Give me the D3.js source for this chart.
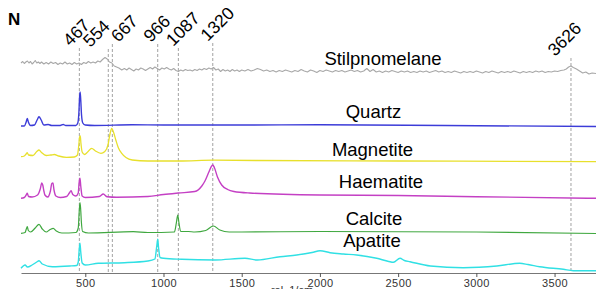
<!DOCTYPE html>
<html>
<head>
<meta charset="utf-8">
<script src="https://cdn.jsdelivr.net/npm/d3@7"></script>
<style>
  html, body { margin: 0; padding: 0; background: #fff; }
  svg { display: block; font-family: "Liberation Sans", Arial, sans-serif; }
</style>
</head>
<body>
<div id="chart"></div>
<script>
// Raman shift range shown (rel. 1/cm)
const shiftRange = [89, 3765];
const tickValues = [500, 1000, 1500, 2000, 2500, 3000, 3500];

// Marked peaks: printed label and where the dashed line sits in the picture
const peakLabels = ['467', '554', '667', '966', '1087', '1320', '3626'];
const peakLines = [462, 647, 673, 963, 1095, 1315, 3605];

// Spectra, top to bottom
const mineralNames = ['Stilpnomelane', 'Quartz', 'Magnetite', 'Haematite', 'Calcite', 'Apatite'];
const stackOffsets = [203, 147, 112, 75, 40, 5];

const stilpnomelane = [
  [89, 7], [100, 8.5], [110, 6.5], [120, 8], [130, 9], [140, 7], [150, 8.5], [160, 6], [170, 7.5], [180, 9.5],
  [190, 7], [200, 8], [210, 6.5], [220, 8], [235, 6], [250, 7.5], [265, 6], [280, 8], [295, 6.5], [310, 7.5],
  [325, 5.5], [340, 7], [355, 6], [370, 8], [385, 6], [400, 7], [415, 5.5], [430, 7.5], [445, 6], [460, 7],
  [475, 5.5], [490, 7.5], [505, 6.5], [520, 8.5], [535, 7], [550, 8], [565, 7], [580, 9], [595, 8], [610, 10.5],
  [626, 12.5], [640, 11], [655, 8], [670, 7], [685, 4], [700, 3], [715, 2], [733, 0], [750, 1.5], [765, 0],
  [780, 2], [795, 0.5], [810, -1], [825, 1], [840, 0], [855, 2], [870, 1], [885, -0.5], [900, 1], [915, 2.5],
  [930, 1], [945, 3], [960, 1.5], [975, 0], [990, 2], [1005, 1], [1020, 2.5], [1035, 1], [1050, 0], [1065, 1.5],
  [1080, -0.5], [1095, -1.5], [1110, 0], [1125, -1], [1140, 0.5], [1155, -0.5], [1170, 0], [1185, -1], [1200, 0.5],
  [1215, -0.5], [1230, 1], [1245, 0], [1260, 1.5], [1275, 0.5], [1290, 2], [1305, 1], [1320, 2.5], [1335, 0],
  [1350, 1], [1365, -1.5], [1380, 0.5], [1395, -1], [1410, 0], [1425, -1.5], [1440, 0.5], [1455, -1], [1470, 0],
  [1485, -1.5], [1500, 0], [1520, -1], [1540, 0.5], [1560, -1], [1580, 0], [1600, 1.5], [1620, 0.5], [1640, -1],
  [1660, 0], [1680, -1.5], [1700, -0.5], [1720, -2], [1740, -0.5], [1760, -1.5], [1780, 0], [1800, -1], [1820, -2],
  [1840, -0.5], [1860, -1.5], [1880, 0.5], [1900, -1], [1920, -2], [1940, 0], [1960, -1], [1980, -2.5], [2000, -0.5],
  [2020, -1.5], [2040, 0], [2060, -1], [2080, -2], [2100, -0.5], [2120, -1.5], [2140, -0.5], [2160, -2], [2180, -1],
  [2200, 0], [2220, -1.5], [2240, -0.5], [2260, -2], [2280, -1], [2300, 1.5], [2320, -1.5], [2340, 0.5], [2360, -2],
  [2380, -1], [2400, -2.5], [2420, -1], [2440, -2], [2460, -0.5], [2480, -1.5], [2500, -2.5], [2520, -1], [2540, -2],
  [2560, -1], [2580, -2.5], [2600, -1.5], [2620, -2.5], [2640, -1], [2660, -2], [2680, -1], [2700, -2.5], [2720, -1.5],
  [2740, -0.5], [2760, -2], [2780, -1], [2800, -2.5], [2820, -1.5], [2840, -2.5], [2860, -1], [2880, -2], [2900, -3],
  [2920, -1.5], [2940, -2.5], [2960, -1.5], [2980, -2.5], [3000, -1], [3020, -2], [3040, -3], [3060, -1.5], [3080, -2.5],
  [3100, -1], [3120, -2], [3140, -3], [3160, -1.5], [3180, -2.5], [3200, -1.5], [3220, -2.5], [3240, -1], [3260, -2],
  [3280, -3], [3300, -1.5], [3320, -2.5], [3340, -1.5], [3360, -2.5], [3380, -1], [3400, -2], [3420, -1], [3440, -2.5],
  [3460, -1.5], [3480, -2], [3500, -1], [3520, -1.5], [3540, -0.5], [3560, 0], [3575, 1], [3590, 3], [3605, 4],
  [3620, 2.5], [3640, 1], [3660, -1], [3680, -3], [3700, -2], [3720, -4], [3740, -3], [3765, -3.5]
];

const quartz = [
  [89, 0], [110, 0], [122, 4], [129, 7.5], [136, 4], [150, 0.5], [175, 1], [192, 6], [204, 9.3], [218, 6],
  [235, 1], [263, 1.5], [285, 0.5], [340, 0.5], [359, 1.5], [375, 0.5], [440, 0.5], [452, 3], [459, 13],
  [464, 30], [467, 34], [471, 26], [476, 11], [484, 3], [500, 1], [560, 0.5], [800, 1.2], [1000, 1],
  [1500, 1], [2000, 1.2], [2800, 0.5], [3765, -0.5]
];

const magnetite = [
  [89, 4.3], [110, 5], [122, 7], [129, 8.3], [137, 6], [165, 5.5], [190, 9.5], [204, 11], [220, 8.5], [250, 5.5],
  [280, 6], [302, 6.5], [330, 5], [380, 3.7], [430, 4], [450, 6], [458, 15], [464, 24], [468, 25], [472, 18],
  [480, 9], [495, 6.5], [515, 9], [541, 12.7], [565, 10], [600, 7.7], [625, 9.5], [645, 16], [658, 27],
  [669, 32.5], [680, 29], [695, 21], [712, 13], [733, 7.7], [760, 3.5], [800, 1], [900, 0], [1100, 0],
  [1320, 0.8], [1600, 0.5], [2500, 0], [3765, -0.7]
];

const haematite = [
  [89, -0.3], [110, 0.5], [122, 3], [129, 4.7], [137, 1.5], [160, 1], [195, 3], [212, 9], [222, 15], [228, 13],
  [236, 6.5], [242, 3], [260, 1], [277, 7], [286, 14.5], [293, 15], [300, 8], [312, 2], [340, 0.5], [380, 1.5],
  [398, 5], [409, 7.3], [420, 3.5], [440, 2], [455, 5], [461, 16], [466, 19.7], [471, 12], [480, 2], [500, 0.5],
  [590, 1.5], [615, 4], [640, 1.2], [700, 0.7], [900, 1.5], [1000, 3.5], [1095, 5], [1200, 6.5], [1245, 12],
  [1265, 17], [1290, 26], [1308, 32], [1315, 33], [1325, 30.5], [1345, 21], [1372, 13], [1410, 8.5], [1450, 6.5],
  [1550, 5], [2000, 3], [2500, 2.5], [3000, 1.3], [3765, -0.3]
];

const calcite = [
  [89, -0.3], [115, 0.5], [123, 4], [129, 6.3], [136, 2.5], [150, 1], [180, 5], [204, 8.7], [225, 4], [250, 1],
  [275, 3.5], [295, 4.7], [315, 2], [350, 0], [440, 0.5], [455, 5], [461, 21], [466, 30.3], [470, 25], [475, 11],
  [483, 1.5], [520, 0], [807, 1.3], [900, 0.5], [1070, 1], [1082, 10], [1091, 18], [1098, 11], [1110, 1.5],
  [1159, 1.5], [1200, 1], [1270, 2.5], [1319, 7], [1360, 3], [1420, 1], [1500, 1], [2000, 1.5], [3000, 1],
  [3765, -0.5]
];

const apatite = [
  [89, -0.3], [115, 3], [130, 1], [160, 3], [190, 6], [204, 7.3], [225, 4], [290, 1.3], [400, 2], [445, 2.5],
  [455, 6], [461, 18], [466, 24.7], [471, 16], [480, 5], [500, 3], [583, 4.7], [750, 5.3], [900, 7], [945, 9],
  [957, 22], [963, 28.7], [968, 21], [978, 10.5], [1000, 9.7], [1116, 8.7], [1329, 8], [1521, 9.7], [1600, 8],
  [1745, 11.3], [1852, 13], [1950, 15.5], [2001, 17.3], [2065, 15.3], [2150, 14], [2235, 13], [2363, 9.7],
  [2440, 6.5], [2470, 5.7], [2512, 9.7], [2540, 7.5], [2576, 6.3], [2706, 2], [2917, 0.3], [3131, 2],
  [3277, 4.7], [3330, 3.5], [3405, 1.3], [3556, -1.3], [3620, -2.7], [3765, -2.7]
];

const spectra = [stilpnomelane, quartz, magnetite, haematite, calcite, apatite];

function drawChart() {
  const W = 596, H = 289;
  const colors = ['#a8a8a8', '#3c3cd8', '#e8e02c', '#c440c4', '#40a840', '#30e0e4'];
  const widths = [1.1, 1.4, 1.3, 1.4, 1.2, 1.4];

  const svg = d3.select('#chart').append('svg')
    .attr('width', W).attr('height', H);

  const x = d3.scaleLinear().domain(shiftRange).range([21, 596]);
  const y = d3.scaleLinear().domain([0, 253]).range([273, 20]);

  // Bold panel letter
  svg.append('text').attr('x', 8).attr('y', 25)
    .style('font-size', '17px').style('font-weight', 'bold').text('N');

  // Dashed peak markers and their rotated labels
  const labelDx = [-9, -18, 6, -7, -5, -5, -16];
  const labelY = [47, 48, 43, 43, 47, 42, 57];
  peakLines.forEach((p, i) => {
    svg.append('line')
      .attr('x1', x(p)).attr('x2', x(p))
      .attr('y1', labelY[i] + 1).attr('y2', y(0))
      .attr('stroke', '#8a8a8a').attr('stroke-width', 0.8)
      .attr('stroke-dasharray', '3,2');
    const lx = x(p) + labelDx[i];
    svg.append('text')
      .attr('transform', `translate(${lx},${labelY[i]}) rotate(-45)`)
      .style('font-size', '17.5px').text(peakLabels[i]);
  });

  // Spectra
  spectra.forEach((s, i) => {
    const line = d3.line()
      .x(d => x(d[0]))
      .y(d => y(d[1] + stackOffsets[i]))
      .curve(i === 0 ? d3.curveLinear : d3.curveMonotoneX);
    svg.append('path').datum(s).attr('d', line)
      .attr('fill', 'none').attr('stroke', colors[i])
      .attr('stroke-width', widths[i]).attr('stroke-linejoin', 'round');
  });

  // Mineral names
  const nameX = [383, 373.5, 372.5, 381, 374, 372];
  const nameY = [65, 118, 156, 188, 225, 247];
  mineralNames.forEach((n, i) => {
    svg.append('text').attr('x', nameX[i]).attr('y', nameY[i])
      .attr('text-anchor', 'middle').style('font-size', '18.5px').text(n);
  });

  // x axis
  const axis = svg.append('g').attr('transform', `translate(0,${y(0)})`)
    .call(d3.axisBottom(x).tickValues(tickValues).tickFormat(d3.format('d'))
      .tickSize(4).tickSizeOuter(0).tickPadding(2));
  axis.select('.domain').attr('stroke', '#777');
  axis.selectAll('.tick line').attr('stroke', '#555');
  axis.selectAll('.tick text').style('font-size', '11px').attr('fill', '#333')
    .style('letter-spacing', '0.4px')
    .style('font-family', '"Liberation Sans", Arial, sans-serif');

  svg.append('text').attr('x', 292).attr('y', 294).attr('text-anchor', 'middle')
    .style('font-size', '11px').attr('fill', '#333').text('rel. 1/cm');
}

drawChart();
</script>
</body>
</html>
